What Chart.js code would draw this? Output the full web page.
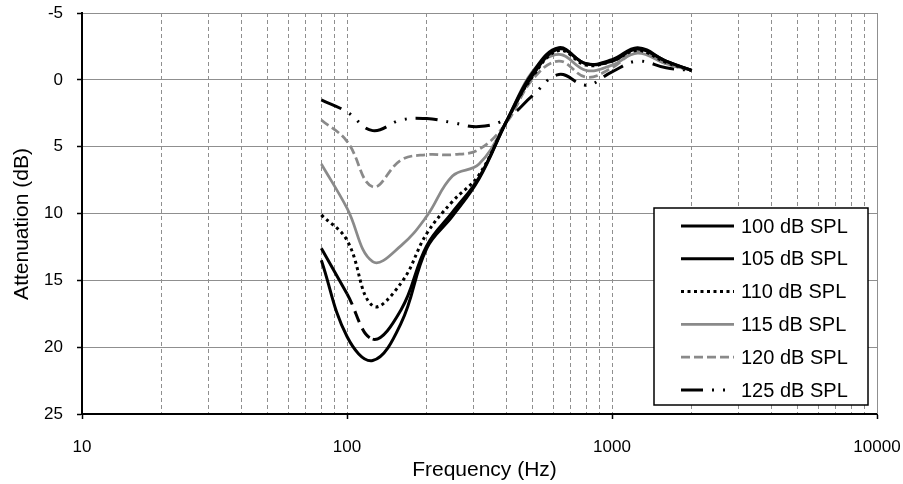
<!DOCTYPE html>
<html lang="en">
<head>
    <meta charset="UTF-8">
    <title>Attenuation vs Frequency</title>
    <style>
        body { margin: 0; background: #fff; }
        #chart { display: block; }
    </style>
</head>
<body>

<canvas id="chart" width="903" height="484"></canvas>

<script src="https://cdn.jsdelivr.net/npm/chart.js"></script>
<script>
  // data (third-octave bands)
  const freqHz = [80, 100, 125, 160, 200, 250, 315, 400, 500, 630, 800, 1000, 1250, 1600, 2000];
  const spl100 = [13.5, 19.2, 21.0, 18.2, 12.6, 10.2, 7.4, 3.1, -0.5, -2.4, -1.2, -1.5, -2.4, -1.4, -0.7];
  const spl105 = [12.6, 16.0, 19.4, 17.2, 12.4, 9.9, 7.3, 3.1, -0.3, -2.3, -1.2, -1.4, -2.3, -1.4, -0.7];
  const spl110 = [10.1, 12.0, 16.9, 15.2, 11.5, 9.1, 7.1, 3.1, -0.2, -2.2, -1.1, -1.4, -2.2, -1.3, -0.7];
  const spl115 = [6.3, 9.6, 13.6, 12.4, 10.2, 7.2, 6.3, 3.1, -0.6, -1.9, -0.7, -1.1, -2.0, -1.2, -0.7];
  const spl120 = [3.0, 4.6, 8.0, 6.0, 5.6, 5.6, 5.2, 3.2, 0.0, -1.4, -0.2, -0.9, -2.1, -1.2, -0.7];
  const spl125 = [1.5, 2.4, 3.8, 3.0, 2.9, 3.2, 3.5, 2.9, 1.2, -0.4, 0.4, -0.6, -1.4, -0.9, -0.7];
  const seriesLabels = ['100 dB SPL', '105 dB SPL', '110 dB SPL', '115 dB SPL', '120 dB SPL', '125 dB SPL'];
  const xLabelTicks = [10, 100, 1000, 10000];
  const yTickMin = -5, yTickMax = 25, yTickStep = 5;

  const FONT = "'Liberation Sans', Arial, sans-serif";
  const gridGray = '#8f8f8f';
  const lineGray = '#8a8a8a';

  const pts = arr => freqHz.map((f, i) => ({x: f, y: arr[i]}));

  const datasets = [
    {label: seriesLabels[0], data: pts(spl100), borderColor: '#000', borderWidth: 3, borderDash: []},
    {label: seriesLabels[1], data: pts(spl105), borderColor: '#000', borderWidth: 3, borderDash: [],
      // the reference draws this stretch of the 105 dB curve dashed
      segment: { borderDash: c => c.p0DataIndex === 1 ? [12, 7] : undefined }},
    {label: seriesLabels[2], data: pts(spl110), borderColor: '#000', borderWidth: 3, borderDash: [3, 3.5]},
    {label: seriesLabels[3], data: pts(spl115), borderColor: lineGray, borderWidth: 2.75, borderDash: []},
    {label: seriesLabels[4], data: pts(spl120), borderColor: lineGray, borderWidth: 2.75, borderDash: [9, 4]},
    {label: seriesLabels[5], data: pts(spl125), borderColor: '#000', borderWidth: 3, borderDash: [22, 9, 2, 9, 2, 9]}
  ];
  datasets.forEach(d => { d.pointRadius = 0; d.tension = 0.4; d.fill = false; });

  // every 1..9 x 10^n gets a vertical grid line
  const allXTicks = [];
  for (let p = 10; p < 10000; p *= 10) {
    for (let m = 1; m < 10; m++) allXTicks.push(m * p);
  }
  allXTicks.push(10000);

  const isDecade = v => xLabelTicks.includes(v);

  const extras = {
    id: 'extras',
    afterDraw(chart) {
      const {ctx, chartArea: a} = chart;
      ctx.save();

      // right edge of the plot is a solid gray line
      ctx.setLineDash([]);
      ctx.strokeStyle = gridGray;
      ctx.lineWidth = 1;
      ctx.beginPath();
      ctx.moveTo(Math.round(a.right) + 0.5, a.top);
      ctx.lineTo(Math.round(a.right) + 0.5, a.bottom);
      ctx.stroke();

      // legend box inside the plot
      const boxW = 214, boxH = 197;
      const bx = a.right - 9 - boxW, by = a.bottom - 9 - boxH;
      ctx.fillStyle = '#fff';
      ctx.fillRect(bx, by, boxW, boxH);
      ctx.strokeStyle = '#000';
      ctx.lineWidth = 1.5;
      ctx.strokeRect(bx, by, boxW, boxH);

      ctx.font = '20px ' + FONT;
      ctx.textBaseline = 'middle';
      ctx.textAlign = 'left';
      chart.data.datasets.forEach((d, i) => {
        const y = by + 18 + i * 32.8;
        ctx.strokeStyle = d.borderColor;
        ctx.lineWidth = d.borderWidth;
        ctx.setLineDash(d.borderDash);
        ctx.beginPath();
        ctx.moveTo(bx + 27, y);
        ctx.lineTo(bx + 80, y);
        ctx.stroke();
        ctx.fillStyle = '#000';
        ctx.fillText(d.label, bx + 87, y + 1);
      });

      // axis titles
      ctx.setLineDash([]);
      ctx.fillStyle = '#000';
      ctx.font = '21px ' + FONT;
      ctx.textAlign = 'center';
      ctx.fillText('Frequency (Hz)', (a.left + a.right) / 2 + 5, 470);
      ctx.translate(22, 224);
      ctx.rotate(-Math.PI / 2);
      ctx.fillText('Attenuation (dB)', 0, 0);
      ctx.restore();
    }
  };

  new Chart(document.getElementById('chart'), {
    type: 'line',
    data: { datasets: datasets },
    plugins: [extras],
    options: {
      responsive: false,
      animation: false,
      devicePixelRatio: 1,
      layout: { padding: { top: 13, right: 26, left: 0, bottom: 0 } },
      plugins: { legend: { display: false }, tooltip: { enabled: false } },
      scales: {
        x: {
          type: 'logarithmic',
          min: 10,
          max: 10000,
          afterBuildTicks: s => { s.ticks = allXTicks.map(v => ({value: v})); },
          afterFit: s => { s.height = 70; s.paddingLeft = 0; s.paddingRight = 0; },
          ticks: {
            autoSkip: false,
            maxRotation: 0,
            padding: 18,
            color: '#000',
            font: { family: FONT, size: 17 },
            callback: v => isDecade(v) ? String(v) : ''
          },
          grid: {
            color: c => (c.tick && c.tick.value === 10) ? 'rgba(0,0,0,0)' : gridGray,
            lineWidth: 1,
            tickLength: 5,
            tickColor: c => (c.tick && isDecade(c.tick.value)) ? '#000' : 'rgba(0,0,0,0)',
            tickWidth: 1.5
          },
          border: { color: '#000', width: 2, dash: [4, 3] }
        },
        y: {
          reverse: true,
          min: yTickMin,
          max: yTickMax,
          afterFit: s => { s.width = 82; s.paddingTop = 0; s.paddingBottom = 0; },
          ticks: {
            stepSize: yTickStep,
            padding: 14,
            color: '#000',
            font: { family: FONT, size: 17 }
          },
          grid: {
            color: c => (c.tick && c.tick.value === yTickMax) ? 'rgba(0,0,0,0)' : gridGray,
            lineWidth: 1,
            tickLength: 5,
            tickColor: '#000',
            tickWidth: 1.5
          },
          border: { color: '#000', width: 2 }
        }
      }
    }
  });
</script>

</body>
</html>
